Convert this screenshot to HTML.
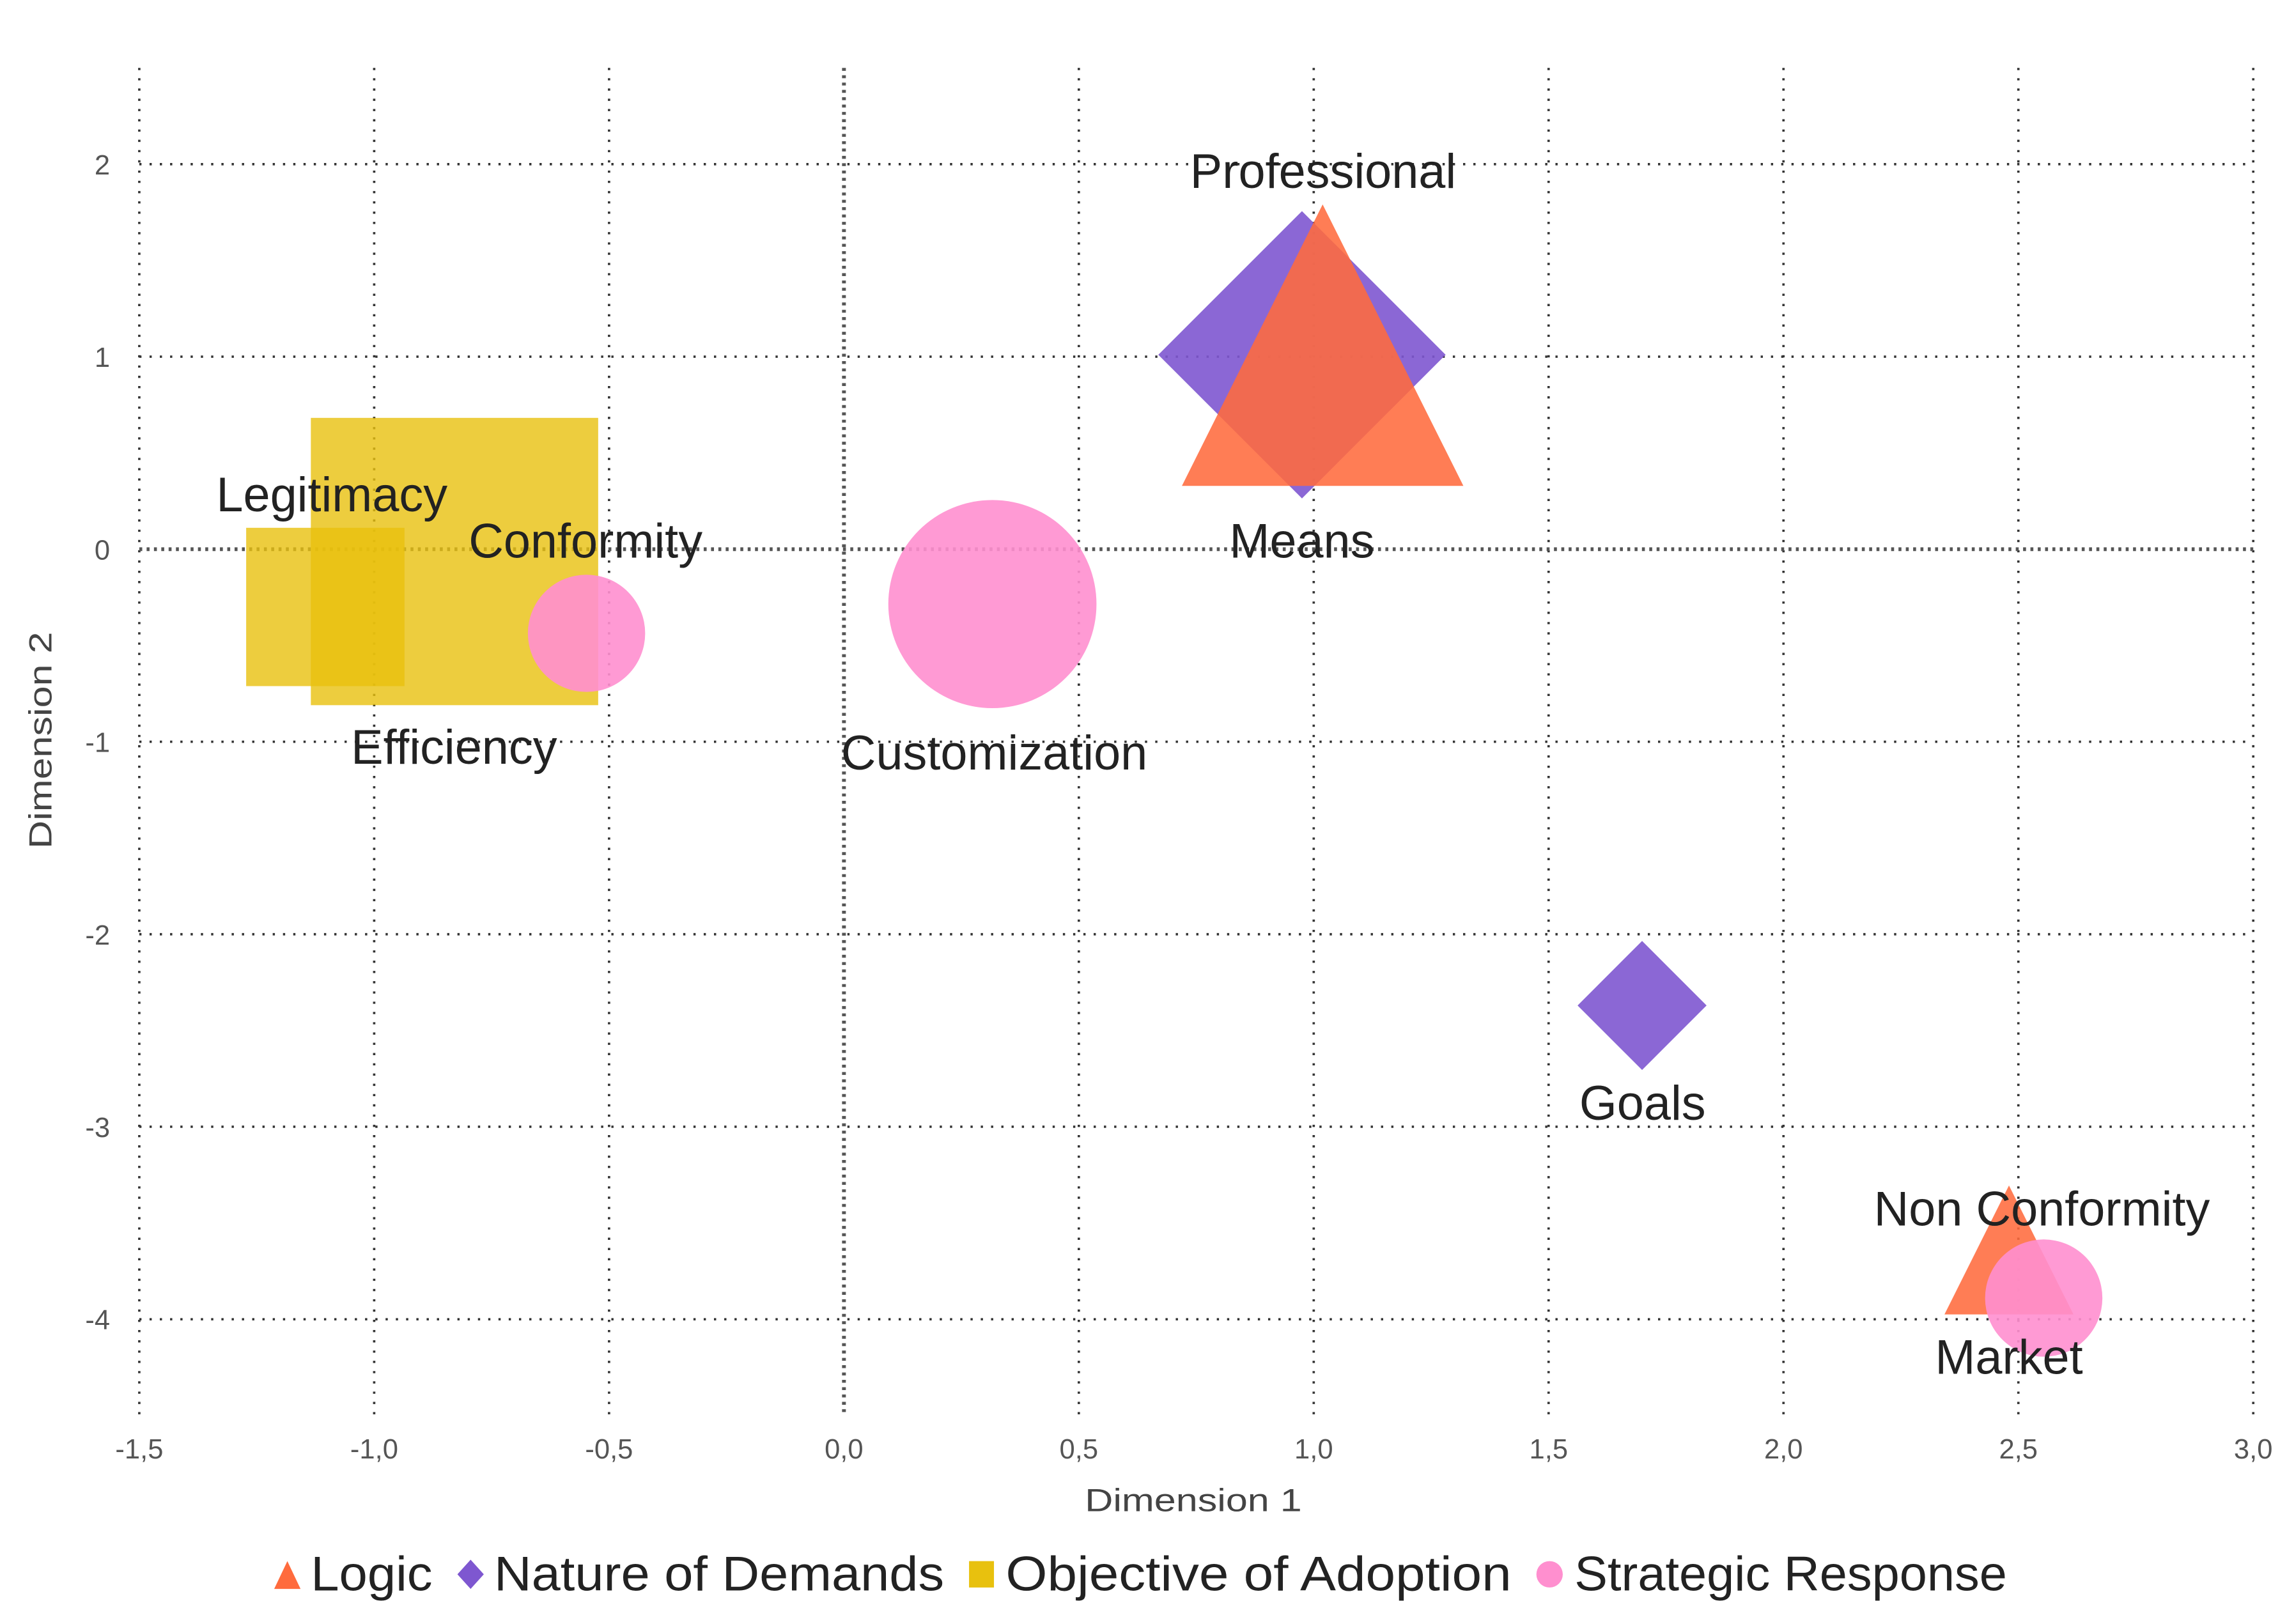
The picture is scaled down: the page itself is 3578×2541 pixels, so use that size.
<!DOCTYPE html>
<html><head><meta charset="utf-8"><style>
html,body{margin:0;padding:0;background:#fff;}
svg{display:block;}
text{font-family:"Liberation Sans",sans-serif;}
</style></head><body>
<svg id="chart" width="3578" height="2541" viewBox="0 0 1560 1107.9" xmlns="http://www.w3.org/2000/svg">
<g id="grid"></g>
<g id="marks"></g>
<g id="labels"></g>
<g id="axes"></g>
<text x="814" y="1031" font-size="22" fill="#444" text-anchor="middle" textLength="148" lengthAdjust="spacingAndGlyphs">Dimension 1</text>
<text transform="translate(35,505) rotate(-90)" font-size="22" fill="#444" text-anchor="middle" textLength="148" lengthAdjust="spacingAndGlyphs">Dimension 2</text>
<g font-size="33" fill="#222">
  <g><polygon points="187,1084 205,1084 196,1065" fill="#FF6B3D"/><text x="212" y="1085" textLength="83" lengthAdjust="spacingAndGlyphs">Logic</text></g>
  <g><polygon points="321,1064 330,1074 321,1084 312,1074" fill="#7E57D0"/><text x="337" y="1085" textLength="307" lengthAdjust="spacingAndGlyphs">Nature of Demands</text></g>
  <g><rect x="661" y="1065" width="17" height="18" fill="#E8C10E"/><text x="686" y="1085" textLength="345" lengthAdjust="spacingAndGlyphs">Objective of Adoption</text></g>
  <g><circle cx="1057" cy="1074" r="9" fill="#FF8FCF"/><text x="1074" y="1085" textLength="295" lengthAdjust="spacingAndGlyphs">Strategic Response</text></g>
</g>
</svg>
<script>
const xTicks=[-1.5,-1.0,-0.5,0.0,0.5,1.0,1.5,2.0,2.5,3.0];
const xTickLabels=["-1,5","-1,0","-0,5","0,0","0,5","1,0","1,5","2,0","2,5","3,0"];
const yTicks=[2,1,0,-1,-2,-3,-4];
const yTickLabels=["2","1","0","-1","-2","-3","-4"];
const pointNames=["Efficiency","Legitimacy","Professional","Goals","Means","Non Conformity","Conformity","Customization","Market"];
const pointSeries=["objective","objective","nature","nature","logic","logic","strategic","strategic","strategic"];
const pointX=[-0.829,-1.104,0.975,1.699,1.019,2.48,-0.548,0.316,2.554];
const pointY=[-0.064,-0.30,1.01,-2.37,1.06,-3.64,-0.437,-0.285,-3.89];
const pointSize=[98,54,98,44,96,44,40,71,40];
const labelX=[-0.83,-1.09,1.02,1.70,0.975,2.55,-0.55,0.32,2.48];
const labelY=[-1.03,0.28,1.96,-2.88,0.04,-3.43,0.04,-1.06,-4.2];

(function(){
const X0=95,X1=1537,XMIN=-1.5,XMAX=3.0,Y0=112,Y1=900,YMAX=2,YMIN=-4;
const xs=v=>X0+(v-XMIN)/(XMAX-XMIN)*(X1-X0);
const ys=v=>Y0+(YMAX-v)/(YMAX-YMIN)*(Y1-Y0);
const NS="http://www.w3.org/2000/svg";
function mk(tag,attrs,parent){const e=document.createElementNS(NS,tag);for(const k in attrs)e.setAttribute(k,attrs[k]);parent.appendChild(e);return e;}
const grid=document.getElementById('grid'),axes=document.getElementById('axes');
const gTop=ys(2.5),gBot=ys(-4.5);
xTicks.forEach((t,i)=>{
  const zero=t===0;
  const l=mk('line',{x1:xs(t),x2:xs(t),y1:gTop,y2:gBot,stroke:zero?'#555':'#333','stroke-width':zero?2.6:1.6,'stroke-dasharray':zero?'2 3':'1.5 5.5'},grid);
  
  
  const tx=mk('text',{x:xs(t),y:995,'font-size':19,fill:'#555','text-anchor':'middle'},axes);
  tx.textContent=xTickLabels[i];
  
  
});
yTicks.forEach((t,i)=>{
  const zero=t===0;
  const l=mk('line',{x1:X0,x2:X1,y1:ys(t),y2:ys(t),stroke:zero?'#555':'#333','stroke-width':zero?2.6:1.6,'stroke-dasharray':zero?'2 3':'1.5 5.5'},grid);
  
  
  const tx=mk('text',{x:75,y:ys(t)+7,'font-size':19,fill:'#555','text-anchor':'end'},axes);
  tx.textContent=yTickLabels[i];
  
  
});
const marks=document.getElementById('marks');
const order=["objective","nature","logic","strategic"];
order.forEach(s=>{
  pointNames.forEach((n,i)=>{
    if(pointSeries[i]!==s)return;
    const cx=xs(pointX[i]),cy=ys(pointY[i]),h=pointSize[i];let e;
    if(s==="objective")e=mk('rect',{x:cx-h,y:cy-h,width:2*h,height:2*h,fill:'#E8C10E','fill-opacity':0.8},marks);
    else if(s==="nature")e=mk('polygon',{points:`${cx},${cy-h} ${cx+h},${cy} ${cx},${cy+h} ${cx-h},${cy}`,fill:'#7E57D0','fill-opacity':0.9},marks);
    else if(s==="logic")e=mk('polygon',{points:`${cx},${cy-h} ${cx+h},${cy+h} ${cx-h},${cy+h}`,fill:'#FF6B3D','fill-opacity':0.88},marks);
    else e=mk('circle',{cx:cx,cy:cy,r:h,fill:'#FF8FCF','fill-opacity':0.9},marks);
    
    
  });
});
const labels=document.getElementById('labels');
pointNames.forEach((n,i)=>{
  const t=mk('text',{x:xs(labelX[i]),y:ys(labelY[i])+11,'font-size':33,fill:'#222','text-anchor':'middle'},labels);
  t.textContent=n;
  
  
});
})();
</script>
</body></html>
